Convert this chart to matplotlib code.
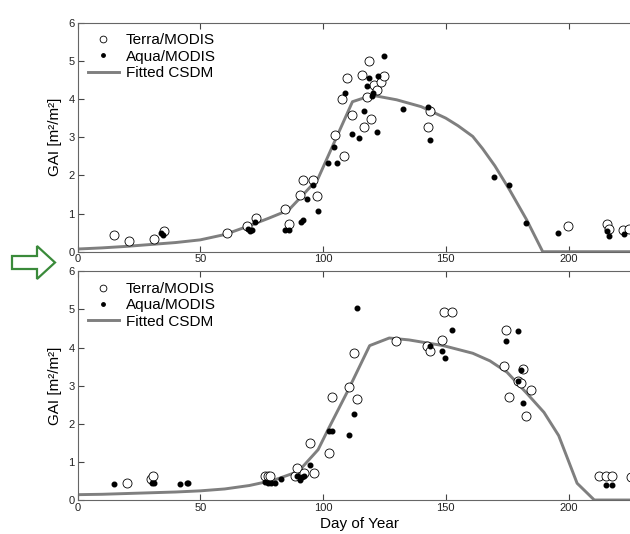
import numpy as np
import matplotlib
matplotlib.use("Agg")
import matplotlib.pyplot as plt
from matplotlib.patches import Polygon

plt.rcParams['font.family'] = ['Liberation Sans', 'DejaVu Sans']

# ---- top panel data ----
terra1_x = [15, 21, 31, 35.2, 60.9, 68.9, 72.8, 84.5, 86, 90.6, 91.7, 95.8, 97.7,
            104.9, 107.6, 108.7, 109.6, 111.8, 115.8, 116.7, 118, 118.6, 119.7, 120.6,
            121.9, 123.8, 125, 142.6, 143.6, 199.7, 215.5, 216.5, 222.3, 224.7]
terra1_y = [0.44, 0.28, 0.32, 0.55, 0.49, 0.68, 0.88, 1.12, 0.72, 1.48, 1.88, 1.87, 1.46,
            3.05, 3.99, 2.52, 4.56, 3.57, 4.63, 3.26, 4.06, 4.99, 3.48, 4.36,
            4.23, 4.45, 4.61, 3.28, 3.68, 0.67, 0.72, 0.59, 0.56, 0.6]
aqua1_x = [34.2, 35, 69.5, 70.3, 71, 72.3, 84.5, 86, 91, 92, 93.6, 95.8, 97.8,
           101.9, 104.6, 105.7, 108.8, 111.7, 114.8, 116.7, 117.8, 118.7, 120, 120.5,
           121.9, 122.5, 124.9, 132.7, 142.6, 143.7, 169.5, 175.8, 182.7, 195.6,
           215.6, 216.5, 222.6]
aqua1_y = [0.5, 0.44, 0.6, 0.55, 0.58, 0.79, 0.57, 0.58, 0.79, 0.83, 1.38, 1.76, 1.07,
           2.33, 2.75, 2.33, 4.16, 3.09, 2.97, 3.68, 4.33, 4.54, 4.08, 4.15,
           3.13, 4.6, 5.12, 3.74, 3.79, 2.92, 1.96, 1.76, 0.75, 0.48,
           0.54, 0.4, 0.47]
fit1_x = [0, 10, 20, 30, 40, 50, 60, 70, 78, 86, 92, 98, 112, 120, 130, 140, 150, 155,
          161, 165, 170, 176, 183, 189.5, 230]
fit1_y = [0.07, 0.1, 0.14, 0.19, 0.24, 0.31, 0.45, 0.68, 0.88, 1.09, 1.5, 1.92, 3.93, 4.1,
          3.98, 3.8, 3.5, 3.3, 3.02, 2.7, 2.25, 1.62, 0.83, 0.0, 0.0]

# ---- bottom panel data ----
terra2_x = [20, 29.8, 30.9, 76.4, 77.7, 78.4, 88.6, 89.3, 92.4, 94.7, 96.5,
            102.6, 103.7, 110.6, 112.6, 113.7, 129.7, 142.5, 143.6, 148.6, 149.4, 152.7,
            173.7, 174.7, 175.6, 179.6, 180.5, 181.6, 182.7, 184.6, 212.3, 215.3, 217.6, 225.5]
terra2_y = [0.44, 0.55, 0.64, 0.63, 0.63, 0.62, 0.64, 0.84, 0.72, 1.49, 0.72,
            1.23, 2.7, 2.96, 3.85, 2.65, 4.18, 4.05, 3.9, 4.2, 4.93, 4.93,
            3.52, 4.46, 2.71, 3.11, 3.08, 3.44, 2.21, 2.89, 0.62, 0.62, 0.62, 0.6]
aqua2_x = [15, 30.2, 31.2, 41.8, 44.5, 45, 76.4, 77.7, 79, 80.4, 82.9, 89.5, 90.6, 91.3,
           92.3, 94.7, 102.4, 103.7, 110.7, 112.6, 113.7, 143.6, 148.6, 149.6, 152.7,
           174.5, 179.6, 179.6, 180.5, 181.6, 215.3, 217.6]
aqua2_y = [0.42, 0.44, 0.44, 0.42, 0.44, 0.44, 0.46, 0.45, 0.45, 0.45, 0.55, 0.64, 0.52, 0.6,
           0.62, 0.92, 1.82, 1.82, 1.7, 2.25, 5.03, 4.05, 3.92, 3.73, 4.47,
           4.16, 4.44, 3.11, 3.41, 2.55, 0.39, 0.39]
fit2_x = [0, 10, 20, 30, 40, 50, 60, 70, 80, 90, 98, 102, 110, 119, 127, 135, 149, 161,
          168, 175, 183, 190, 196, 203.5, 210.5, 230]
fit2_y = [0.14, 0.15, 0.17, 0.19, 0.21, 0.24, 0.29, 0.38, 0.52, 0.75, 1.32, 1.84, 2.85, 4.05,
          4.25, 4.2, 4.05, 3.85, 3.65, 3.35, 2.8, 2.3, 1.69, 0.44, 0.0, 0.0]

xticks = [0, 50, 100, 150, 200]
yticks = [0, 1, 2, 3, 4, 5, 6]

W, H = 630, 534
fig = plt.figure(figsize=(W / 100, H / 100), dpi=100)

# axes in pixel terms: x=0 at 77.5px, 2.455 px per day
x_left = 77.5
px_per_day = 2.455
xmax = 230
ax_w = xmax * px_per_day / W


def make_panel(bottom_px, top_px, terra_x, terra_y, aqua_x, aqua_y, fx, fy, xlabel):
    ax = fig.add_axes([x_left / W, 1 - bottom_px / H, ax_w, (bottom_px - top_px) / H])
    ax.plot(fx, fy, color='#7f7f7f', lw=2.1, label='Fitted CSDM', zorder=2)
    ax.plot(terra_x, terra_y, ls='', marker='o', ms=6.5, mfc='white', mec='black',
            mew=0.6, label='Terra/MODIS', zorder=3)
    ax.plot(aqua_x, aqua_y, ls='', marker='o', ms=3.3, mfc='black', mec='black',
            label='Aqua/MODIS', zorder=4)
    ax.set_xlim(0, xmax)
    ax.set_ylim(0, 6)
    ax.set_xticks(xticks)
    ax.set_yticks(yticks)
    ax.tick_params(direction='in', length=4, width=0.8, colors='#444444',
                   labelcolor='#222222', labelsize=8, top=True, right=True, pad=2)
    for s in ax.spines.values():
        s.set_color('#666666')
        s.set_linewidth(0.8)
    ax.set_ylabel('GAI [m²/m²]', fontsize=11, labelpad=5)
    if xlabel:
        ax.set_xlabel('Day of Year', fontsize=11, labelpad=3)
    h, l = ax.get_legend_handles_labels()
    order = [1, 2, 0]
    ax.legend([h[i] for i in order], [l[i] for i in order], loc='upper left',
              frameon=False, fontsize=11, markerscale=0.75, handlelength=2.0,
              handletextpad=0.45, labelspacing=0.15, borderaxespad=0.3,
              borderpad=0.4)
    return ax


make_panel(251.7, 22.7, terra1_x, terra1_y, aqua1_x, aqua1_y, fit1_x, fit1_y, False)
make_panel(500.0, 271.3, terra2_x, terra2_y, aqua2_x, aqua2_y, fit2_x, fit2_y, True)

# green outline arrow between the panels
arrow_px = [(12, 256), (37, 256), (37, 246), (55, 262.5), (37, 279), (37, 269), (12, 269)]
arrow = Polygon([(x / W, 1 - y / H) for x, y in arrow_px], closed=True,
                facecolor='white', edgecolor='#3a8a3a', lw=1.6,
                transform=fig.transFigure)
fig.patches.append(arrow)

fig.savefig('out.png', dpi=100)
